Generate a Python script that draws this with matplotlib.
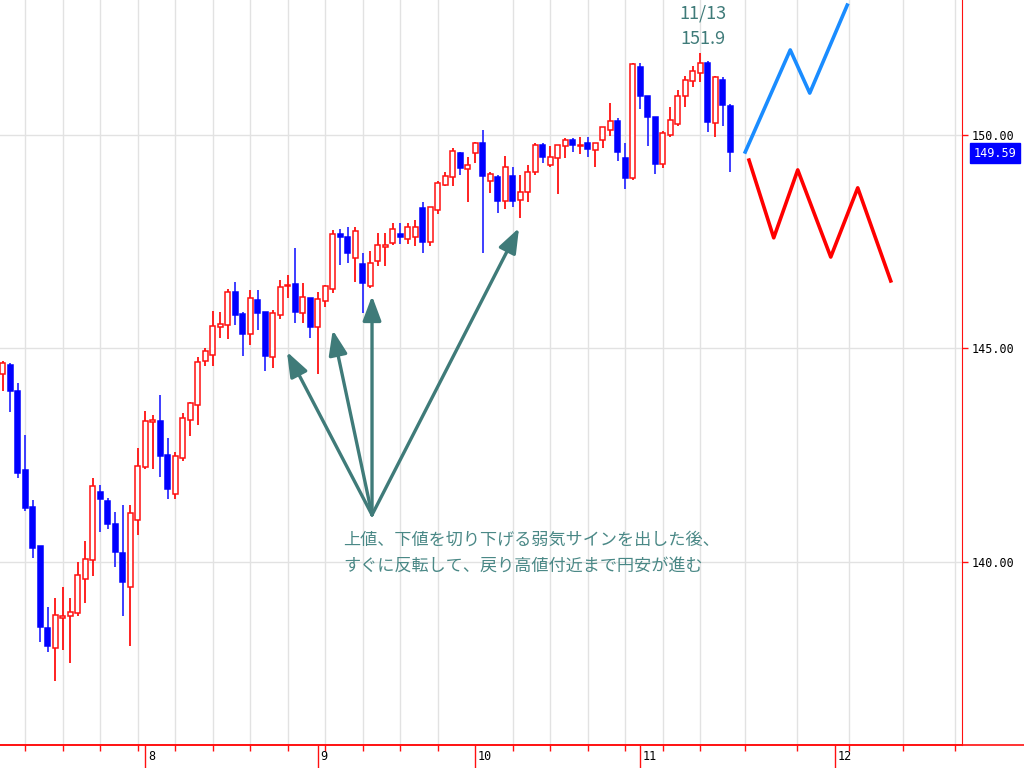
import numpy as np
import matplotlib.pyplot as plt
from matplotlib.lines import Line2D

plt.rcParams["font.family"] = ["Noto Sans CJK JP", "DejaVu Sans"]

# daily USD/JPY candles, early July -> 17 Nov
opens = [144.40, 144.60, 144.01, 142.14, 141.28, 140.37, 138.45, 137.99, 138.68, 138.72,
         138.80, 139.60, 140.05, 141.63, 141.43, 140.88, 140.21, 139.42, 140.97, 142.23,
         143.28, 143.30, 142.51, 141.59, 142.44, 143.33, 143.68, 144.71, 144.85, 145.51,
         145.55, 146.32, 145.81, 145.34, 146.14, 145.85, 144.80, 145.78, 146.45, 146.51,
         145.84, 146.18, 145.49, 146.11, 146.39, 147.68, 147.60, 147.11, 146.97, 146.45,
         147.05, 147.37, 147.46, 147.67, 147.56, 147.60, 148.28, 147.48, 148.23, 148.83,
         149.02, 149.57, 149.20, 149.57, 149.80, 148.93, 149.01, 148.46, 149.04, 148.48,
         148.67, 149.12, 149.77, 149.30, 149.46, 149.74, 149.87, 149.75, 149.81, 149.65,
         149.88, 150.12, 150.33, 149.45, 149.00, 151.60, 150.90, 150.43, 149.31, 150.00,
         150.26, 150.90, 151.27, 151.45, 151.68, 150.29, 151.29, 150.68]
highs = [144.71, 144.65, 144.19, 142.97, 141.45, 140.37, 138.94, 139.15, 139.41, 139.15,
         140.00, 140.49, 141.96, 141.80, 141.50, 141.17, 141.32, 141.34, 142.66, 143.54,
         143.44, 143.90, 142.90, 142.58, 143.48, 143.74, 144.80, 145.00, 145.87, 145.86,
         146.39, 146.55, 145.86, 146.37, 146.37, 145.85, 145.90, 146.60, 146.72, 147.35,
         146.53, 146.18, 146.31, 146.49, 147.78, 147.79, 147.85, 147.84, 147.23, 147.27,
         147.71, 147.70, 147.93, 147.93, 147.94, 148.01, 148.44, 148.31, 148.91, 149.14,
         149.69, 149.61, 149.48, 149.84, 150.12, 149.14, 149.06, 149.51, 149.26, 149.06,
         149.30, 149.80, 149.80, 149.73, 149.77, 149.92, 149.92, 149.95, 149.95, 149.82,
         150.19, 150.74, 150.39, 149.82, 151.69, 151.68, 150.91, 150.43, 150.08, 150.65,
         151.05, 151.37, 151.61, 151.91, 151.72, 151.37, 151.35, 150.73]
lows = [143.99, 143.50, 141.96, 141.20, 140.09, 138.13, 137.90, 137.20, 137.94, 137.63,
        138.72, 139.03, 139.68, 140.71, 140.77, 139.89, 138.74, 138.04, 140.62, 142.18,
        142.18, 141.98, 141.47, 141.47, 142.37, 142.94, 143.21, 144.59, 144.59, 145.24,
        145.22, 145.55, 144.83, 145.08, 145.43, 144.46, 144.54, 145.69, 146.18, 145.59,
        145.59, 145.24, 144.40, 145.96, 146.30, 146.96, 147.01, 146.55, 145.84, 146.41,
        146.92, 146.92, 147.42, 147.44, 147.45, 147.39, 147.24, 147.39, 148.15, 148.81,
        148.81, 149.06, 148.44, 149.34, 147.23, 148.65, 148.18, 148.26, 148.31, 148.05,
        148.44, 149.06, 149.35, 149.26, 148.62, 149.46, 149.59, 149.56, 149.48, 149.25,
        149.69, 149.98, 149.38, 148.73, 148.95, 150.60, 149.73, 149.09, 149.22, 149.95,
        150.21, 150.66, 151.13, 151.23, 150.06, 149.96, 150.20, 149.12]
closes = [144.66, 143.99, 142.08, 141.26, 140.32, 138.48, 138.04, 138.76, 138.72, 138.83,
          139.69, 140.07, 141.78, 141.48, 140.88, 140.22, 139.52, 141.14, 142.25, 143.30,
          143.32, 142.49, 141.71, 142.47, 143.38, 143.72, 144.69, 144.93, 145.53, 145.57,
          146.31, 145.78, 145.34, 146.19, 145.84, 144.81, 145.83, 146.43, 146.49, 145.86,
          146.21, 145.51, 146.16, 146.46, 147.68, 147.62, 147.23, 147.75, 146.53, 147.01,
          147.42, 147.42, 147.80, 147.60, 147.84, 147.84, 147.50, 148.31, 148.88, 149.04,
          149.63, 149.22, 149.30, 149.82, 149.03, 149.09, 148.46, 149.24, 148.46, 148.67,
          149.14, 149.77, 149.48, 149.48, 149.77, 149.88, 149.77, 149.77, 149.67, 149.82,
          150.19, 150.33, 149.59, 149.00, 151.66, 150.90, 150.43, 149.31, 150.04, 150.35,
          150.91, 151.29, 151.50, 151.68, 150.31, 151.35, 150.70, 149.59]

peak_date = "11/13"

# month starts (candle index) and weekly grid (Mondays, then the projection area)
month_pos = [19, 42, 63, 85, 111]
month_labels = ["8", "9", "10", "11", "12"]
week_lines = [3, 8, 13, 18, 23, 28, 33, 38, 43, 48, 53, 58, 63, 68, 73, 78, 83, 88, 93,
              99.0, 105.9, 112.8, 120.0, 127.0]
price_ticks = [140, 145, 150]

# scenario zigzags
up_x = [99.0, 105.0, 107.6, 112.6]
up_y = [149.60, 151.99, 150.98, 153.04]
down_x = [99.5, 102.8, 106.0, 110.4, 114.0, 118.4]
down_y = [149.41, 147.59, 149.18, 147.14, 148.76, 146.58]

# annotation arrows: common start, four tips
arrow_start = (49.24, 141.10)
tips_x = [37.9, 44.0, 49.24, 68.84]
tips_y = [144.92, 145.43, 146.23, 147.82]
note_lines = ["上値、下値を切り下げる弱気サインを出した後、",
              "すぐに反転して、戻り高値付近まで円安が進む"]

RED = "#ff1010"
BLUE = "#0000ff"
TEAL = "#3f7b79"

o = np.array(opens)
h = np.array(highs)
l = np.array(lows)
c = np.array(closes)
days = np.arange(len(c))
up = c >= o

fig = plt.figure(figsize=(10.24, 7.68), dpi=100)
ax = fig.add_axes([0, 23 / 768, 962 / 1024, 745 / 768])
ax.set_xlim(-0.36, 127.9)
ax.set_ylim(135.71, 153.16)

wick_cols = np.where(up, RED, "#2f2fff")
ax.vlines(days, l, h, colors=wick_cols, lw=1.3, zorder=2)
ax.bar(days, np.maximum(np.abs(c - o), 0.025), bottom=np.minimum(o, c), width=0.66,
       color=np.where(up, "white", BLUE), edgecolor=np.where(up, RED, BLUE),
       linewidth=1.1, zorder=3)

ax.plot(up_x, up_y, color="#1a8cff", lw=2.6, zorder=4)
ax.plot(down_x, down_y, color="#ff0000", lw=2.6, zorder=4)

for tx, ty in zip(tips_x, tips_y):
    ax.annotate("", xy=(tx, ty), xytext=arrow_start,
                arrowprops=dict(arrowstyle="-|>,head_length=0.75,head_width=0.28",
                                mutation_scale=20, lw=2.4, color=TEAL,
                                shrinkA=0, shrinkB=0), zorder=5)

ax.text(0.3565, 0.2752, note_lines[0], transform=ax.transAxes, fontsize=12.3,
        color="#4a8886", ha="left", va="center")
ax.text(0.3565, 0.2403, note_lines[1], transform=ax.transAxes, fontsize=12.3,
        color="#4a8886", ha="left", va="center")

pk = int(np.argmax(h))
ax.annotate(peak_date, xy=(pk, h[pk]), xytext=(2, 29), textcoords="offset points",
            ha="center", va="center", fontsize=13, color=TEAL)
ax.annotate(f"{h[pk]:.1f}", xy=(pk, h[pk]), xytext=(2, 10), textcoords="offset points",
            ha="center", va="center", fontsize=13, color=TEAL)

# axes styling
for s in ["top", "left"]:
    ax.spines[s].set_visible(False)
ax.spines["right"].set_color(RED)
ax.spines["bottom"].set_color(RED)
ax.spines["bottom"].set_linewidth(1.2)
fig.add_artist(Line2D([0, 1], [23 / 768, 23 / 768], color=RED, lw=1.2))

ax.yaxis.tick_right()
ax.set_yticks(price_ticks)
ax.set_yticklabels([f"{p:.2f}" for p in price_ticks])
ax.tick_params(axis="y", length=4.3, width=1, color=RED, labelcolor="black", pad=2.5,
               labelsize=8.5, labelfontfamily="DejaVu Sans Mono")

ax.set_xticks(month_pos)
ax.set_xticklabels([])
ax.set_xticks(week_lines, minor=True)
ax.tick_params(axis="x", which="major", length=16.6, width=1, color=RED, direction="out")
ax.tick_params(axis="x", which="minor", length=4.3, width=1, color=RED, direction="out")
for mp, ml in zip(month_pos, month_labels):
    ax.annotate(ml, xy=(mp, 0), xycoords=("data", "axes fraction"), xytext=(2, -8.5),
                textcoords="offset points", ha="left", va="center", fontsize=8.5,
                family="DejaVu Sans Mono", annotation_clip=False)

ax.grid(axis="x", which="minor", color="#e2e2e2", lw=1)
ax.grid(axis="y", which="major", color="#e2e2e2", lw=1)
ax.set_axisbelow(True)

ax.annotate(f"{c[-1]:.2f}", xy=(1, c[-1]), xycoords=("axes fraction", "data"),
            xytext=(12, -1), textcoords="offset pixels", ha="left", va="center",
            fontsize=8.5, family="DejaVu Sans Mono", color="white",
            bbox=dict(boxstyle="square,pad=0.3", fc=BLUE, ec=BLUE),
            annotation_clip=False)

fig.savefig("out.png", dpi=100)
